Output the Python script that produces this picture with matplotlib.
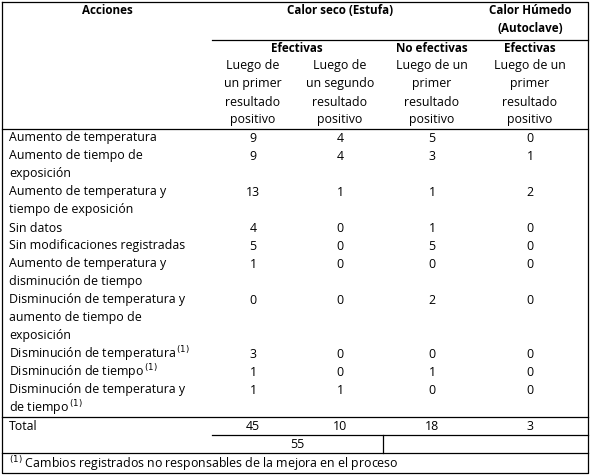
import matplotlib
matplotlib.use("Agg")
import matplotlib.pyplot as plt

acciones = [
    ["Aumento de temperatura"],
    ["Aumento de tiempo de", "exposición"],
    ["Aumento de temperatura y", "tiempo de exposición"],
    ["Sin datos"],
    ["Sin modificaciones registradas"],
    ["Aumento de temperatura y", "disminución de tiempo"],
    ["Disminución de temperatura y", "aumento de tiempo de", "exposición"],
    ["Disminución de temperatura$^{\\,(1)}$"],
    ["Disminución de tiempo$^{\\,(1)}$"],
    ["Disminución de temperatura y", "de tiempo$^{\\,(1)}$"],
]
ef_primer = [9, 9, 13, 4, 5, 1, 0, 3, 1, 1]
ef_segundo = [4, 4, 1, 0, 0, 0, 0, 0, 0, 1]
noef_primer = [5, 3, 1, 1, 5, 0, 2, 0, 1, 0]
auto_primer = [0, 1, 2, 0, 0, 0, 0, 0, 0, 0]
totales = [45, 10, 18, 3]
total_efectivas = 55
sub_header = ["Luego de\nun primer\nresultado\npositivo", "Luego de\nun segundo\nresultado\npositivo",
              "Luego de un\nprimer\nresultado\npositivo", "Luego de un\nprimer\nresultado\npositivo"]

plt.rcParams['font.family'] = ['Open Sans', 'DejaVu Sans']
fig = plt.figure(figsize=(5.9, 4.75), dpi=100)
ax = fig.add_axes([0, 0, 1, 1])
ax.set_xlim(0, 590); ax.set_ylim(475, 0); ax.axis('off')
fs = 8.9
fb = 8.4
lw = 0.9
L, R, T, B = 2, 588, 2, 473
ax.plot([L, R, R, L, L], [T, T, B, B, T], color='black', lw=lw)
cx = [253, 340, 432, 530]
# header
ax.text(107, 11, "Acciones", ha='center', va='center', fontsize=fb, weight='bold')
ax.text(340, 11, "Calor seco (Estufa)", ha='center', va='center', fontsize=fb, weight='bold')
ax.text(530, 11, "Calor Húmedo", ha='center', va='center', fontsize=fb, weight='bold')
ax.text(530, 29, "(Autoclave)", ha='center', va='center', fontsize=fb, weight='bold')
ax.plot([212, R], [40, 40], color='black', lw=lw)
ax.text(297, 48, "Efectivas", ha='center', va='center', fontsize=fb, weight='bold')
ax.text(432, 48, "No efectivas", ha='center', va='center', fontsize=fb, weight='bold')
ax.text(530, 48, "Efectivas", ha='center', va='center', fontsize=fb, weight='bold')
for x, s in zip(cx, sub_header):
    for k, line in enumerate(s.split("\n")):
        ax.text(x, 66 + 18 * k, line, ha='center', va='center', fontsize=fs)
ax.plot([L, R], [129, 129], color='black', lw=lw)
# body
y = 138
for i, lines in enumerate(acciones):
    for k, line in enumerate(lines):
        ax.text(9, y + 18 * k, line, ha='left', va='center', fontsize=fs)
    for x, v in zip(cx, [ef_primer[i], ef_segundo[i], noef_primer[i], auto_primer[i]]):
        ax.text(x, y, str(v), ha='center', va='center', fontsize=fs)
    y += 18 * len(lines)
ax.plot([L, R], [417, 417], color='black', lw=lw)
ax.text(9, 426, "Total", ha='left', va='center', fontsize=fs)
for x, v in zip(cx, totales):
    ax.text(x, 426, str(v), ha='center', va='center', fontsize=fs)
ax.plot([212, R], [435, 435], color='black', lw=lw)
ax.text(297, 444, str(total_efectivas), ha='center', va='center', fontsize=fs)
ax.plot([383, 383], [435, 453], color='black', lw=lw)
ax.plot([L, R], [453, 453], color='black', lw=lw)
ax.text(9, 464, "$^{(1)}$ Cambios registrados no responsables de la mejora en el proceso",
        ha='left', va='center', fontsize=fs)
fig.savefig("out.png", dpi=100)
